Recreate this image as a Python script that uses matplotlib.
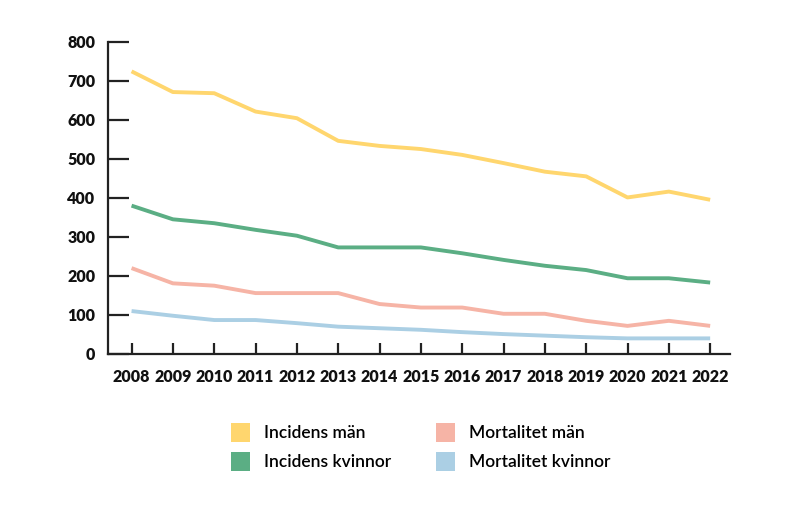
import matplotlib
matplotlib.use("Agg")
import matplotlib.pyplot as plt
from matplotlib.patches import Patch

years = list(range(2008, 2023))
incidens_man = [724, 671, 668, 621, 604, 546, 533, 525, 510, 489, 467, 455, 401, 416, 395]
incidens_kvinnor = [380, 345, 335, 318, 303, 273, 273, 273, 258, 241, 226, 215, 194, 194, 183]
mortalitet_man = [220, 181, 175, 156, 156, 156, 128, 119, 119, 103, 103, 85, 72, 85, 72]
mortalitet_kvinnor = [110, 98, 87, 87, 79, 70, 66, 62, 56, 51, 47, 43, 40, 40, 40]

labels = ["Incidens män", "Incidens kvinnor", "Mortalitet män", "Mortalitet kvinnor"]
colors = ["#FFD66E", "#5BAE84", "#F6B4A6", "#ABCFE4"]

plt.rcParams["font.family"] = ["Lato", "DejaVu Sans"]

fig = plt.figure(figsize=(8, 5.12), dpi=100)
ax = fig.add_axes([0.135, 0.3086, 0.7775, 0.61])

series = [incidens_man, incidens_kvinnor, mortalitet_man, mortalitet_kvinnor]
for vals, c in zip(series, colors):
    ax.plot(years, vals, color=c, linewidth=2.8, solid_capstyle="butt")

ax.set_xlim(2007.43, 2022.48)
ax.set_ylim(0, 800)
ax.set_xticks(years)
ax.set_xticklabels([str(y) for y in years], fontsize=11.5, fontweight="heavy", color="#111111")
ax.set_yticks(range(0, 801, 100))
ax.set_yticklabels([str(v) for v in range(0, 801, 100)], fontsize=11.5, fontweight="heavy", color="#111111")
ax.tick_params(axis="x", direction="in", length=8, width=1.6, pad=11, color="#222222")
ax.tick_params(axis="y", direction="in", length=15, width=1.6, pad=9, color="#222222")
for s in ["top", "right"]:
    ax.spines[s].set_visible(False)
for s in ["left", "bottom"]:
    ax.spines[s].set_linewidth(1.6)
    ax.spines[s].set_color("#222222")

handles = [Patch(facecolor=c, edgecolor="none") for c in colors]
fig.legend(handles, labels, loc="center", bbox_to_anchor=(0.526, 0.127), ncol=2,
           frameon=False, prop={"size": 12.5, "weight": "semibold"},
           handlelength=1.1, handleheight=1.3,
           columnspacing=2.6, labelspacing=0.6, handletextpad=0.8)

fig.savefig("out.png", dpi=100, facecolor="white")
